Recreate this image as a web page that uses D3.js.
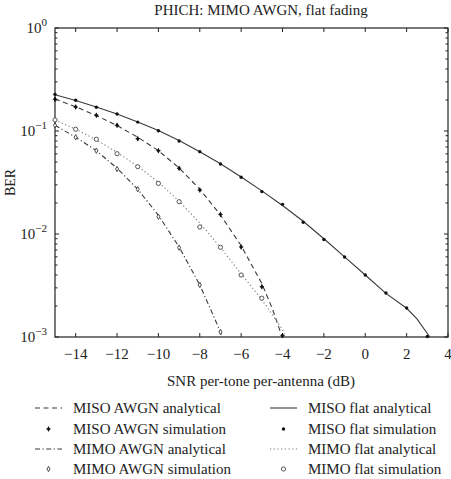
<!DOCTYPE html>
<html><head><meta charset="utf-8">
<script src="https://cdn.jsdelivr.net/npm/d3@7"></script>
<style>body{margin:0;background:#fff}svg{display:block}text{font-family:"Liberation Serif","DejaVu Serif",serif;fill:#222}</style>
</head><body>
<script>
const snr = [-15,-14,-13,-12,-11,-10,-9,-8,-7,-6,-5,-4,-3,-2,-1,0,1,2,3];
const misoFlatSim = [0.227,0.199,0.170,0.146,0.122,0.1007,0.080,0.063,0.0478,0.0356,0.0258,0.0194,0.0130,0.00885,0.00598,0.0040,0.00267,0.00191,0.00101];
const misoFlatAnaX = [-15,-14,-13,-12,-11,-10,-9,-8,-7,-6,-5,-4,-3,-2,-1,0,1,2,2.5,3,3.15];
const misoFlatAna = [0.225,0.198,0.171,0.146,0.122,0.101,0.081,0.063,0.048,0.0357,0.0262,0.0189,0.0133,0.0090,0.0060,0.0040,0.00265,0.0019,0.0015,0.00108,0.00098];
const misoAwgnSimX = [-15,-14,-13,-12,-11,-10,-9,-8,-7,-6,-5,-4];
const misoAwgnSim = [0.203,0.171,0.142,0.1136,0.0842,0.0644,0.0435,0.0267,0.0155,0.00748,0.00308,0.00103];
const misoAwgnAnaX = [-15,-14,-13,-12,-11,-10,-9,-8,-7,-6,-5,-4.5,-4];
const misoAwgnAna = [0.205,0.172,0.141,0.113,0.087,0.0645,0.0438,0.0272,0.0153,0.0077,0.0033,0.0019,0.00098];
const mimoFlatSimX = [-15,-14,-13,-12,-11,-10,-9,-8,-7,-6,-5];
const mimoFlatSim = [0.128,0.104,0.083,0.0602,0.045,0.031,0.0206,0.0117,0.00743,0.0040,0.00238];
const mimoFlatAnaX = [-15,-14,-13,-12,-11,-10,-9,-8,-7,-6,-5,-4.5,-4,-3.85];
const mimoFlatAna = [0.128,0.104,0.082,0.062,0.0455,0.0318,0.0208,0.0128,0.0074,0.0041,0.0023,0.00165,0.00118,0.00098];
const mimoAwgnSimX = [-15,-14,-13,-12,-11,-10,-9,-8,-7];
const mimoAwgnSim = [0.1136,0.0869,0.0644,0.0428,0.0272,0.0147,0.00736,0.0032,0.00112];
const mimoAwgnAnaX = [-15,-14,-13,-12,-11,-10,-9,-8,-7.5,-7,-6.9];
const mimoAwgnAna = [0.1136,0.087,0.0645,0.0435,0.0272,0.0152,0.0075,0.0032,0.0019,0.00112,0.00095];
const xTicks = [-14,-12,-10,-8,-6,-4,-2,0,2,4];
const yDecades = [0,-1,-2,-3];
const title = "PHICH: MIMO AWGN, flat fading";
const xLabel = "SNR per-tone per-antenna (dB)";
const yLabel = "BER";
const legendLabels = ["MISO AWGN analytical","MISO flat analytical","MISO AWGN simulation","MISO flat simulation","MIMO AWGN analytical","MIMO flat analytical","MIMO AWGN simulation","MIMO flat simulation"];

const W=451,H=479;
const L=55,R=448,T=28,B=337;
const svg=d3.select("body").append("svg").attr("width",W).attr("height",H);
const x=d3.scaleLinear().domain([-15,4]).range([L,R]);
const y=d3.scaleLog().domain([1e-3,1]).range([B,T]);

svg.append("defs").append("clipPath").attr("id","clip").append("rect").attr("x",L).attr("y",T).attr("width",R-L).attr("height",B-T);

const minor=[];
for(let d=-3;d<0;d++) for(let k=2;k<=9;k++) minor.push(k*Math.pow(10,d));
const tk=svg.append("g").attr("stroke","#222").attr("stroke-width",1);
xTicks.forEach(v=>{
  tk.append("line").attr("x1",x(v)).attr("x2",x(v)).attr("y1",B).attr("y2",B-4);
  tk.append("line").attr("x1",x(v)).attr("x2",x(v)).attr("y1",T).attr("y2",T+4);
});
yDecades.forEach(d=>{
  const v=Math.pow(10,d);
  tk.append("line").attr("x1",L).attr("x2",L+4).attr("y1",y(v)).attr("y2",y(v));
  tk.append("line").attr("x1",R).attr("x2",R-4).attr("y1",y(v)).attr("y2",y(v));
});
minor.forEach(v=>{
  tk.append("line").attr("x1",L).attr("x2",L+2.5).attr("y1",y(v)).attr("y2",y(v));
  tk.append("line").attr("x1",R).attr("x2",R-2.5).attr("y1",y(v)).attr("y2",y(v));
});
svg.append("rect").attr("x",L).attr("y",T).attr("width",R-L).attr("height",B-T).attr("fill","none").attr("stroke","#222").attr("stroke-width",1.2);

xTicks.forEach(v=>{
  svg.append("text").attr("x",x(v)).attr("y",B+22).attr("text-anchor","middle").attr("font-size",15).text(v<0?"\u2212"+(-v):v);
});
yDecades.forEach(d=>{
  const t=svg.append("text").attr("y",y(Math.pow(10,d))+5).attr("font-size",15);
  t.append("tspan").text("10");
  t.append("tspan").attr("dy",-7).attr("font-size",11).text(d===0?"0":"\u2212"+(-d));
  const w=t.node().getComputedTextLength();
  t.attr("x",L-8-w);
});
svg.append("text").attr("x",261).attr("y",15).attr("text-anchor","middle").attr("font-size",15).text(title);
svg.append("text").attr("x",261).attr("y",386).attr("text-anchor","middle").attr("font-size",15).text(xLabel);
svg.append("text").attr("transform","translate(15,"+((T+B)/2)+") rotate(-90)").attr("text-anchor","middle").attr("font-size",14).text(yLabel);

const line=d3.line().x(d=>x(d[0])).y(d=>y(d[1]));
const plot=svg.append("g").attr("clip-path","url(#clip)");
const styles={
  misoAwgn:{dash:"5,3.5",color:"#3a3a3a",w:1.1},
  misoFlat:{dash:null,color:"#3a3a3a",w:1.1},
  mimoAwgn:{dash:"5,2.5,1.2,2.5",color:"#3a3a3a",w:1.1},
  mimoFlat:{dash:"1.2,2.5",color:"#777",w:1.1}
};
function drawLine(xs,ys,s){
  plot.append("path").datum(xs.map((v,i)=>[v,ys[i]])).attr("d",line).attr("fill","none")
    .attr("stroke",s.color).attr("stroke-width",s.w).attr("stroke-dasharray",s.dash);
}
drawLine(misoFlatAnaX,misoFlatAna,styles.misoFlat);
drawLine(misoAwgnAnaX,misoAwgnAna,styles.misoAwgn);
drawLine(mimoFlatAnaX,mimoFlatAna,styles.mimoFlat);
drawLine(mimoAwgnAnaX,mimoAwgnAna,styles.mimoAwgn);

function marker(g,type,cx,cy){
  if(type==="star"){
    g.append("path").attr("d",d3.symbol(d3.symbolDiamond,9)()).attr("transform",`translate(${cx},${cy})`).attr("fill","#111");
    g.append("path").attr("d",`M${cx-2.2},${cy}H${cx+2.2}M${cx},${cy-2.2}V${cy+2.2}`).attr("stroke","#111").attr("stroke-width",0.9);
  } else if(type==="dot"){
    g.append("circle").attr("cx",cx).attr("cy",cy).attr("r",1.7).attr("fill","#111");
  } else if(type==="odiamond"){
    g.append("path").attr("d",d3.symbol(d3.symbolDiamond,8)()).attr("transform",`translate(${cx},${cy})`).attr("fill","#fff").attr("stroke","#333").attr("stroke-width",0.9);
  } else if(type==="ocircle"){
    g.append("circle").attr("cx",cx).attr("cy",cy).attr("r",2.1).attr("fill","#fff").attr("stroke","#444").attr("stroke-width",0.9);
  }
}
const mk=svg.append("g");
snr.forEach((v,i)=>marker(mk,"dot",x(v),y(misoFlatSim[i])));
misoAwgnSimX.forEach((v,i)=>marker(mk,"star",x(v),y(misoAwgnSim[i])));
mimoFlatSimX.forEach((v,i)=>marker(mk,"ocircle",x(v),y(mimoFlatSim[i])));
mimoAwgnSimX.forEach((v,i)=>marker(mk,"odiamond",x(v),y(mimoAwgnSim[i])));

const rowsY=[413,434,454,474];
const colSym=[[35,62],[270,297]];
const colTxt=[73,308];
const legendKinds=[["line","misoAwgn"],["line","misoFlat"],["mk","star"],["mk","dot"],["line","mimoAwgn"],["line","mimoFlat"],["mk","odiamond"],["mk","ocircle"]];
const lg=svg.append("g");
legendLabels.forEach((lab,i)=>{
  const r=Math.floor(i/2), c=i%2, yy=rowsY[r];
  const k=legendKinds[i];
  if(k[0]==="line"){
    const s=styles[k[1]];
    lg.append("line").attr("x1",colSym[c][0]).attr("x2",colSym[c][1]).attr("y1",yy-5).attr("y2",yy-5)
      .attr("stroke",s.color).attr("stroke-width",s.w).attr("stroke-dasharray",s.dash);
  } else {
    marker(lg,k[1],(colSym[c][0]+colSym[c][1])/2,yy-5);
  }
  lg.append("text").attr("x",colTxt[c]).attr("y",yy).attr("font-size",15).text(lab);
});
</script>
</body></html>
